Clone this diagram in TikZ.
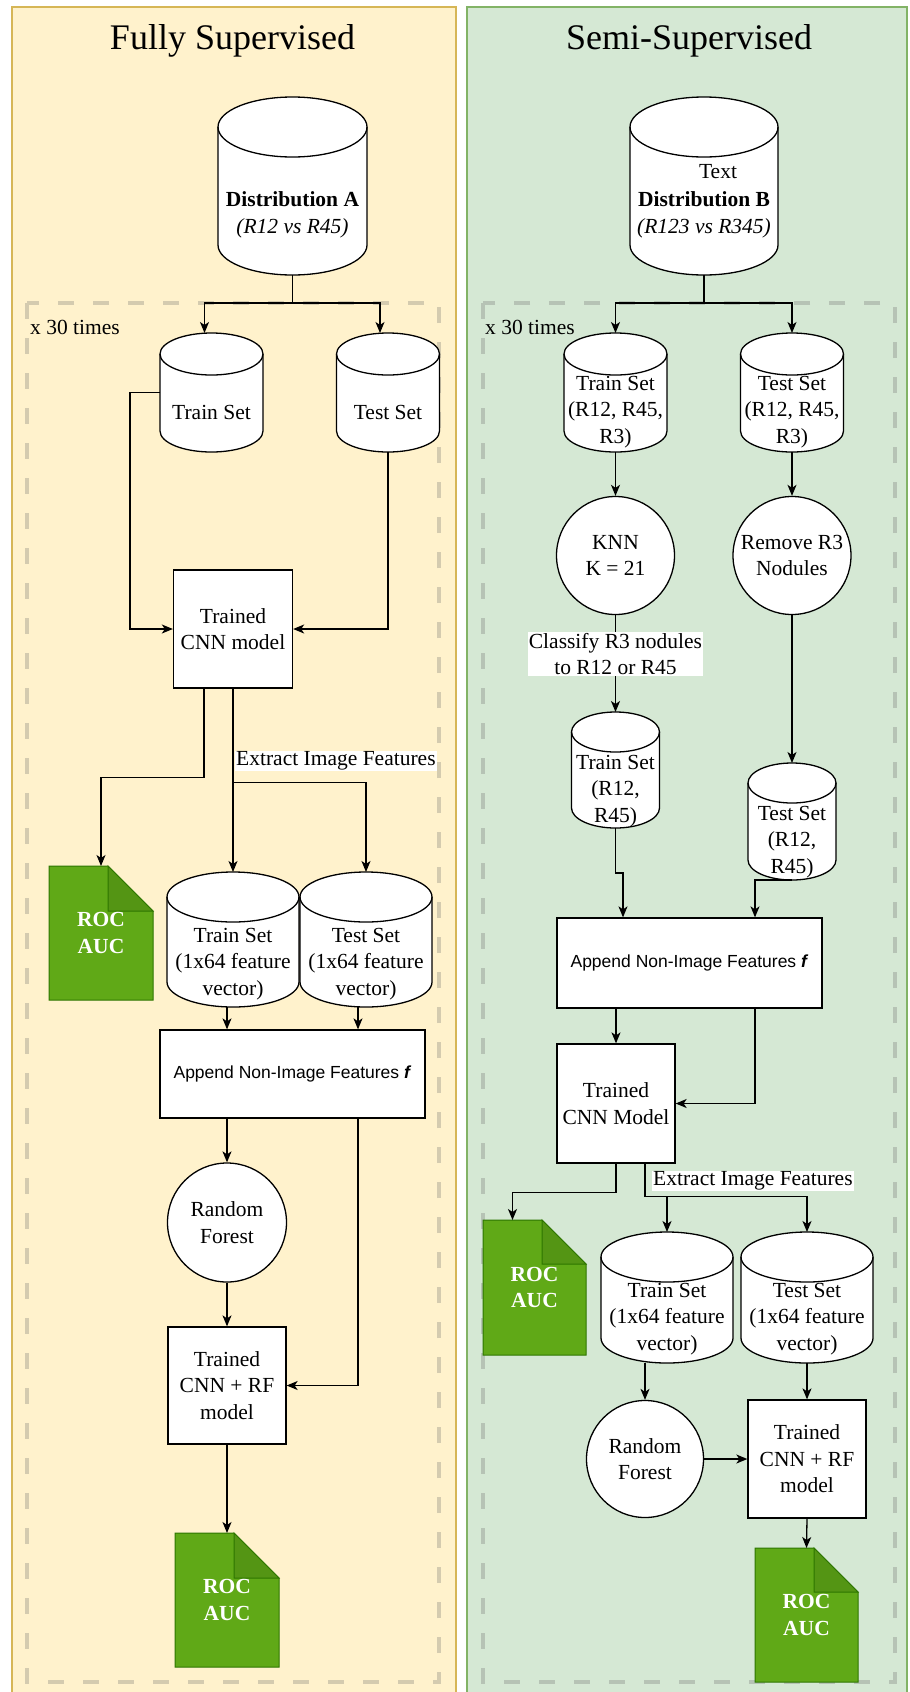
\documentclass[tikz,border=0pt]{standalone}
\usepackage{fontspec}
\setmainfont{Liberation Serif}
\newfontfamily\sansf{Liberation Sans}
\usetikzlibrary{arrows.meta,calc}
\definecolor{yfill}{HTML}{FFF2CC}
\definecolor{ydraw}{HTML}{D6B656}
\definecolor{gfill}{HTML}{D5E8D4}
\definecolor{gdraw}{HTML}{82B366}
\definecolor{docfill}{HTML}{60A917}
\definecolor{docdraw}{HTML}{2D7600}
\colorlet{docfold}{docfill!88!black}
\definecolor{dashc}{HTML}{666666}
\newcommand\fs{\fontsize{21.5}{26.5}\selectfont}
\newcommand\fsans{\sansf\fontsize{17.5}{21}\selectfont}
\newcommand\ftitle{\fontsize{36}{43}\selectfont}
\tikzset{
  ln/.style={line width=1.3pt, draw=black},
  arr/.style={ln, -{Stealth[length=11pt,width=9pt,inset=3pt]}},
  boxst/.style={draw, line width=1.3pt, fill=white, inner sep=0pt, align=center, font=\fs},
  circ/.style={circle, draw, fill=white, line width=1.3pt, inner sep=0pt, align=center, font=\fs},
  ghost/.style={rectangle, inner sep=0pt, outer sep=0pt, draw=none},
  txt/.style={align=center, inner sep=0pt, font=\fs},
  lbl/.style={fill=white, inner sep=1pt, align=center, font=\fs},
  cylst/.style={draw=black, fill=white, line width=1.3pt},
  docst/.style={draw=docdraw, fill=docfill, line width=1pt},
  loopbox/.style={draw=dashc, draw opacity=0.28, line width=4pt, dash pattern=on 16pt off 19pt},
}
% cylinder: name, cx, top, width, height, ry, text-y, text
\newcommand\cylsh[8]{%
  \pgfmathsetmacro\cL{#2-#4/2}%
  \pgfmathsetmacro\cR{#2+#4/2}%
  \pgfmathsetmacro\cT{#3+#6}%
  \pgfmathsetmacro\cB{#3+#5-#6}%
  \pgfmathsetmacro\crx{#4/2}%
  \draw[cylst] (\cL,\cT) -- (\cL,\cB) arc[start angle=180,end angle=360,x radius=\crx pt,y radius=#6pt] -- (\cR,\cT) arc[start angle=0,end angle=180,x radius=\crx pt,y radius=#6pt] -- cycle;
  \draw[cylst,fill=none] (\cL,\cT) arc[start angle=180,end angle=360,x radius=\crx pt,y radius=#6pt];
  \node[ghost,minimum width=#4pt,minimum height=#5pt] (#1) at (#2,{#3+#5/2}) {};
  \node[txt] (#1t) at (#2,#7) {#8};
}
% document shape: name, cx, top, width, height, fold
\newcommand\rocdoc[6]{%
  \pgfmathsetmacro\dL{#2-#4/2}%
  \pgfmathsetmacro\dR{#2+#4/2}%
  \pgfmathsetmacro\dB{#3+#5}%
  \pgfmathsetmacro\dF{#2+#4/2-#6}%
  \pgfmathsetmacro\dFy{#3+#6}%
  \draw[docst] (\dL,#3) -- (\dF,#3) -- (\dR,\dFy) -- (\dR,\dB) -- (\dL,\dB) -- cycle;
  \draw[docst,fill=docfold] (\dF,#3) -- (\dF,\dFy) -- (\dR,\dFy) -- cycle;
  \node[ghost,minimum width=#4pt,minimum height=#5pt,text=white,font=\fs\bfseries,align=center] (#1) at (#2,{#3+#5/2}) {ROC\\AUC};
}
\begin{document}
\begin{tikzpicture}[x=1pt,y=-1pt]
\useasboundingbox (0,0) rectangle (910,1692);
% panels
\fill[yfill] (12,7) rectangle (456,1692);
\draw[ydraw, line width=1.2pt] (12,1692) -- (12,7) -- (456,7) -- (456,1692);
\fill[gfill] (467,7) rectangle (907,1692);
\draw[gdraw, line width=1.2pt] (467,1692) -- (467,7) -- (907,7) -- (907,1692);
% loop boxes
\draw[loopbox] (27,303) rectangle (439,1682);
\draw[loopbox] (483,303) rectangle (895,1682);
% titles
\node[font=\ftitle, anchor=base, inner sep=0pt] (tA) at (232.5,49.5) {Fully Supervised};
\node[font=\ftitle, anchor=base, inner sep=0pt] (tB) at (689,49.5) {Semi-Supervised};
\node[font=\fs, anchor=base west, inner sep=0pt] (nA) at (30,334) {x 30 times};
\node[font=\fs, anchor=base west, inner sep=0pt] (nB) at (485,334) {x 30 times};

% ---------- left ----------
\cylsh{dA}{292.5}{97}{149}{178}{30}{215}{\textbf{Distribution A}\\\textit{(R12 vs R45)}}
\cylsh{trL}{211.5}{333}{103}{119}{21}{412}{Train Set}
\cylsh{teL}{388}{333}{103}{119}{21}{412}{Test Set}
\node[boxst, minimum width=119pt, minimum height=118pt] (cnnL) at (233,629) {Trained\\CNN model};
\rocdoc{rocL1}{101}{866}{104}{134}{45}
\cylsh{tfL}{233}{872}{132}{135}{25}{964}{Train Set\\(1x64 feature\\vector)}
\cylsh{tfL2}{366}{872}{132}{135}{25}{964}{Test Set\\(1x64 feature\\vector)}
\node[boxst, minimum width=265pt, minimum height=88pt, font=\fsans] (apL) at (292.5,1074) {Append Non-Image Features \textbf{\textit{f}}};
\node[circ, minimum size=119pt] (rfL) at (227,1222.5) {Random\\Forest};
\node[boxst, minimum width=118pt, minimum height=117pt] (crL) at (227,1385.5) {Trained\\CNN + RF\\model};
\rocdoc{rocL2}{227}{1533}{104}{134}{45}

% ---------- right ----------
\cylsh{dB}{704}{97}{148}{178}{30}{215}{\textbf{Distribution B}\\\textit{(R123 vs R345)}}
\node[txt] (dBx) at (718,172) {Text};
\cylsh{trR}{615.5}{333}{103}{119}{21}{412}{Train Set\\(R12, R45,\\R3)}
\cylsh{teR}{792}{333}{103}{119}{21}{412}{Test Set\\(R12, R45,\\R3)}
\node[circ, minimum size=118pt] (knn) at (615.5,555.5) {KNN\\K = 21};
\node[circ, minimum size=118pt] (rem) at (792,555.5) {Remove R3\\Nodules};
\cylsh{tr2R}{615.5}{712}{88}{116}{20}{791}{Train Set\\(R12,\\R45)}
\cylsh{te2R}{792}{763}{88}{117}{20}{842}{Test Set\\(R12,\\R45)}
\node[boxst, minimum width=265pt, minimum height=90pt, font=\fsans] (apR) at (689.5,963) {Append Non-Image Features \textbf{\textit{f}}};
\node[boxst, minimum width=118pt, minimum height=119pt] (cnnR) at (616,1103.5) {Trained\\CNN Model};
\rocdoc{rocR1}{534.5}{1220}{103}{135}{44}
\cylsh{tfR}{667}{1232}{132}{131}{25}{1319}{Train Set\\(1x64 feature\\vector)}
\cylsh{tfR2}{807}{1232}{132}{131}{25}{1319}{Test Set\\(1x64 feature\\vector)}
\node[circ, minimum size=117pt] (rfR) at (645,1459) {Random\\Forest};
\node[boxst, minimum width=118pt, minimum height=118pt] (crR) at (807,1459) {Trained\\CNN + RF\\model};
\rocdoc{rocR2}{806.5}{1548}{103}{134}{44}

% ---------- connectors left ----------
\coordinate (jA) at (292.5,303);
\draw[ln] (dA.south) -- (jA);
\draw[arr] (jA) -| ([xshift=-7pt]trL.north);
\draw[arr] (jA) -| ([xshift=-8pt]teL.north);
\draw[arr] (trL.west) -- ++(-30,0) |- (cnnL.west);
\draw[arr] (teL.south) |- (cnnL.east);
\draw[arr] ([xshift=-29pt]cnnL.south) -- ++(0,89) -| (rocL1.north);
\draw[arr] (cnnL.south) -- (tfL.north);
\draw[arr] (cnnL.south) -- ++(0,94) -| (tfL2.north);
\draw[arr] ([xshift=-6pt]tfL.south) -- ([xshift=-65.5pt]apL.north);
\draw[arr] ([xshift=-8pt]tfL2.south) -- ([xshift=65.5pt]apL.north);
\draw[arr] ([xshift=-65.5pt]apL.south) -- (rfL.north);
\draw[arr] ([xshift=65.5pt]apL.south) |- (crL.east);
\draw[arr] (rfL.south) -- (crL.north);
\draw[arr] (crL.south) -- (rocL2.north);
\node[lbl, anchor=west] (exL) at (235,761) {Extract Image Features};

% ---------- connectors right ----------
\coordinate (jB) at (704,303);
\draw[ln] (dB.south) -- (jB);
\draw[arr] (jB) -| (trR.north);
\draw[arr] (jB) -| (teR.north);
\draw[arr] (trR.south) -- (knn.north);
\draw[arr] (teR.south) -- (rem.north);
\draw[arr] (knn.south) -- (tr2R.north);
\node[lbl] (cls) at (615.5,654) {Classify R3 nodules\\to R12 or R45};
\draw[arr] (rem.south) -- (te2R.north);
\draw[arr] (tr2R.south) -- ++(0,45) -| ([xshift=-66.5pt]apR.north);
\draw[arr] (te2R.south) -| ([xshift=65.5pt]apR.north);
\draw[arr] ([xshift=-73.5pt]apR.south) -- (cnnR.north);
\draw[arr] ([xshift=65.5pt]apR.south) |- (cnnR.east);
\draw[arr] (cnnR.south) -- ++(0,29) -| ([xshift=-22pt]rocR1.north);
\draw[arr] ([xshift=29pt]cnnR.south) -- ++(0,33) -| (tfR.north);
\draw[arr] ([xshift=29pt]cnnR.south) -- ++(0,33) -| (tfR2.north);
\node[lbl, anchor=west] (exR) at (652,1181) {Extract Image Features};
\draw[arr] ([xshift=-22pt]tfR.south) -- (rfR.north);
\draw[arr] (tfR2.south) -- (crR.north);
\draw[arr] (rfR.east) -- (crR.west);
\draw[arr] (crR.south) -- (rocR2.north);
\end{tikzpicture}
\end{document}
